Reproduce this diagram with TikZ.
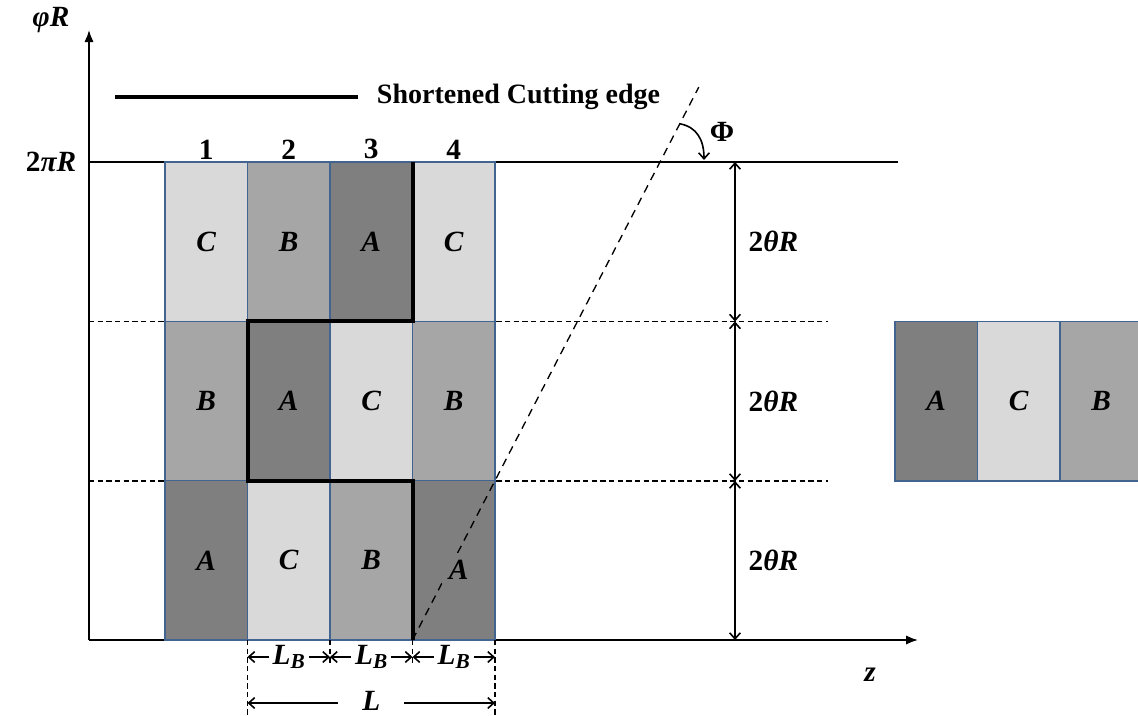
\documentclass[tikz,border=0pt]{standalone}
\usepackage{fontspec}
\setmainfont{Liberation Serif}
\usetikzlibrary{arrows.meta,positioning,calc}

\definecolor{shadeA}{RGB}{127,127,127}
\definecolor{shadeB}{RGB}{166,166,166}
\definecolor{shadeC}{RGB}{217,217,217}
\definecolor{cellline}{RGB}{65,100,145}

\newcommand{\lblfont}{\fontsize{22}{26}\selectfont\bfseries}
\newcommand{\txtfont}{\fontsize{21}{25}\selectfont\bfseries}
\newcommand{\mi}[1]{\textbf{\textit{#1}}}
\newcommand{\subB}{\raisebox{-0.35ex}{\fontsize{16}{18}\selectfont\mi{B}}}

\begin{document}
\begin{tikzpicture}[
    x=0.75pt, y=-0.75pt,
    cell/.style={draw=cellline, line width=1.1pt, minimum width=61.875pt, minimum height=119.5pt,
                 inner sep=0pt, outer sep=0pt, font=\lblfont},
    cellA/.style={cell, fill=shadeA},
    cellB/.style={cell, fill=shadeB},
    cellC/.style={cell, fill=shadeC},
    axis/.style={-{Latex[length=9pt,width=7pt]}, line width=1.3pt},
    dim/.style={{Straight Barb[length=4.5pt,width=8pt]}-{Straight Barb[length=4.5pt,width=8pt]}, line width=1.2pt},
    guide/.style={line width=0.9pt, dash pattern=on 4pt off 2.5pt},
    cutline/.style={line width=1pt, dash pattern=on 6pt off 4.5pt},
    edge/.style={line width=3pt},
    lbl/.style={font=\lblfont, inner sep=1pt},
]
  \clip (0,0) rectangle (1138,715);
  \useasboundingbox (0,0) rectangle (1138,715);

  % Axes and levels
  \coordinate (O) at (89,640);
  \coordinate (ytip) at (89,30);
  \coordinate (xtip) at (918,640);
  \coordinate (top0) at (89,162);
  \coordinate (top1) at (898,162);
  \coordinate (lv1a) at (89,321.5);
  \coordinate (lv1b) at (828,321.5);
  \coordinate (lv2a) at (89,481);
  \coordinate (lv2b) at (828,481);
  \draw[guide] (lv1a) -- (lv1b);
  \draw[guide] (lv2a) -- (lv2b);
  \draw[line width=1.3pt] (top0) -- (top1);
  \draw[axis] (O) -- (ytip);
  \draw[axis] (O) -- (xtip);
  \node[lbl] (ylab) at (51,20) {\mi{φR}};
  \node[lbl] (toplab) at (51,162) {2\mi{πR}};
  \node[lbl] (zlab) at (870,675) {\mi{z}};

  % Legend
  \coordinate (leg0) at (115,97);
  \coordinate (leg1) at (358,97);
  \draw[edge] (leg0) -- (leg1);
  \node[font=\txtfont, inner sep=1pt, right=13pt of leg1] (legtxt) {Shortened Cutting edge};

  % Row 1
  \node[cellC, anchor=north west] (r1c1) at (165,162) {\mi{C}};
  \node[cellB, right=0pt of r1c1] (r1c2) {\mi{B}};
  \node[cellA, right=0pt of r1c2] (r1c3) {\mi{A}};
  \node[cellC, right=0pt of r1c3] (r1c4) {\mi{C}};
  % Row 2
  \node[cellB, below=0pt of r1c1] (r2c1) {\mi{B}};
  \node[cellA, right=0pt of r2c1] (r2c2) {\mi{A}};
  \node[cellC, right=0pt of r2c2] (r2c3) {\mi{C}};
  \node[cellB, right=0pt of r2c3] (r2c4) {\mi{B}};
  % Row 3
  \node[cellA, below=0pt of r2c1] (r3c1) {\mi{A}};
  \node[cellC, right=0pt of r3c1] (r3c2) {\mi{C}};
  \node[cellB, right=0pt of r3c2] (r3c3) {\mi{B}};
  \node[cellA, right=0pt of r3c3] (r3c4) {};

  % Column numbers
  \node[lbl, above=1pt of r1c1.north] (n1) {1};
  \node[lbl, above=1pt of r1c2.north] (n2) {2};
  \node[lbl, above=1pt of r1c3.north] (n3) {3};
  \node[lbl, above=1pt of r1c4.north] (n4) {4};

  % Separate block
  \node[cellA, anchor=north west] (s1) at (895,321.5) {\mi{A}};
  \node[cellC, right=0pt of s1] (s2) {\mi{C}};
  \node[cellB, right=0pt of s2] (s3) {\mi{B}};

  % Cutting line and angle
  \coordinate (cutend) at ($(r3c3.south east)!3.47!(r3c4.north east)$);
  \draw[cutline] (r3c3.south east) -- (cutend);
  \node[lbl, fill=shadeA, inner sep=5pt] (lblA) at ($(r3c4.center)+(5,9)$) {\mi{A}};
  \coordinate (phi0) at ($(r3c3.south east)!3.24!(r3c4.north east)$);
  \coordinate (phi1) at (704,160);
  \draw[{Straight Barb[length=4.5pt,width=8pt]}-, line width=1.2pt] (phi1) .. controls (704,140) and (697,127) .. (phi0);
  \node[lbl] (philab) at (722,132) {Φ};

  % Shortened edge
  \draw[edge] (r1c3.north east) -- (r1c3.south east) -- (r2c2.north west)
    -- (r2c2.south west) -- (r3c3.north east) -- (r3c3.south east);

  % Heights
  \coordinate (d0) at (735,162);
  \coordinate (d1) at (735,321.5);
  \coordinate (d2) at (735,481);
  \coordinate (d3) at (735,640);
  \draw[dim] (d0) -- (d1);
  \draw[dim] (d1) -- (d2);
  \draw[dim] (d2) -- (d3);
  \node[lbl, right=9pt of $(d0)!0.5!(d1)$] (h1) {2\mi{θR}};
  \node[lbl, right=9pt of $(d1)!0.5!(d2)$] (h2) {2\mi{θR}};
  \node[lbl, right=9pt of $(d2)!0.5!(d3)$] (h3) {2\mi{θR}};

  % Widths
  \coordinate (w0) at ($(r3c2.south west)+(0,75)$);
  \coordinate (w1) at ($(r3c3.south west)+(0,25)$);
  \coordinate (w2) at ($(r3c4.south west)+(0,25)$);
  \coordinate (w3) at ($(r3c4.south east)+(0,75)$);
  \draw[guide] (r3c2.south west) -- (w0);
  \draw[guide] (r3c3.south west) -- (w1);
  \draw[guide] (r3c4.south west) -- (w2);
  \draw[guide] (r3c4.south east) -- (w3);
  \coordinate (b0) at ($(r3c2.south west)+(0,17)$);
  \coordinate (b1) at ($(r3c3.south west)+(0,17)$);
  \coordinate (b2) at ($(r3c4.south west)+(0,17)$);
  \coordinate (b3) at ($(r3c4.south east)+(0,17)$);
  \draw[dim] (b0) -- (b1) node[midway, lbl, fill=white, inner xsep=3pt] {\mi{L}\subB};
  \draw[dim] (b1) -- (b2) node[midway, lbl, fill=white, inner xsep=3pt] {\mi{L}\subB};
  \draw[dim] (b2) -- (b3) node[midway, lbl, fill=white, inner xsep=3pt] {\mi{L}\subB};
  \coordinate (c0) at ($(r3c2.south west)+(0,63)$);
  \coordinate (c1) at ($(r3c4.south east)+(0,63)$);
  \draw[dim] (c0) -- (c1) node[midway, lbl, fill=white, inner xsep=18pt, inner ysep=0pt, yshift=1.5pt] {\mi{L}};
\end{tikzpicture}
\end{document}
